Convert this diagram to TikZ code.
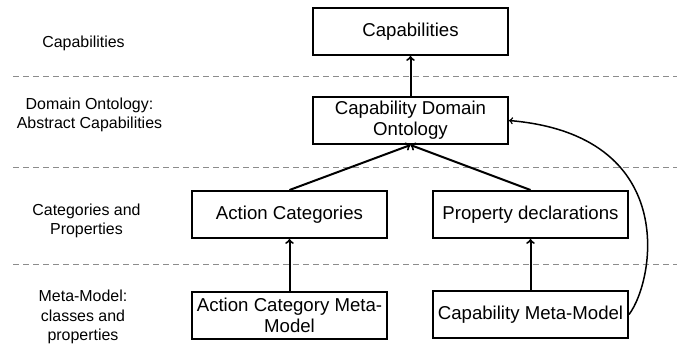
\documentclass[tikz,border=0pt]{standalone}
\usepackage{fontspec}
\setmainfont{Liberation Sans}
\usepackage{xcolor}
\usetikzlibrary{arrows}

\definecolor{sepgray}{gray}{0.55}

\tikzset{
  layer/.style={draw, line width=2bp, minimum width=195bp, minimum height=47bp,
    inner sep=2bp, align=center, font=\fontsize{18.7}{21}\selectfont},
  side/.style={align=center, font=\fontsize{16}{19.5}\selectfont},
  sep/.style={sepgray, dash pattern=on 6bp off 4bp, line width=1bp}
}

\begin{document}
\begin{tikzpicture}[x=1bp,y=-1bp,->,auto,node distance=89bp]
\useasboundingbox (0,0) rectangle (677,346);

% layers
\draw[sep,-] (13,76.5) -- (677,76.5);
\draw[sep,-] (13,167.5) -- (677,167.5);
\draw[sep,-] (13,264.5) -- (677,264.5);

\node (lcap) [side] at (83.5,43) {Capabilities};
\node (lonto) [side] at (89.5,115) {Domain Ontology:\\Abstract Capabilities};
\node (lcat) [side] at (86.5,221) {Categories and\\Properties};
\node (lmeta) [side] at (83,317) {Meta-Model:\\classes and\\properties};

\node (cap) [layer] at (410.5,31.5) {Capabilities};
\node (onto) [layer, below of=cap] {Capability Domain\\Ontology};
\node (actcat) [layer] at (289.5,214.5) {Action Categories};
\node (prop) [layer] at (530.5,214.5) {Property declarations};
\node (acmm) [layer, below of=actcat, node distance=101bp] {Action Category Meta-\\Model};
\node (cmm) [layer, below of=prop, node distance=100bp] {Capability Meta-Model};

\path[line width=2bp]
(onto) edge (cap)
(acmm) edge (actcat)
(cmm) edge (prop)
(actcat.north) edge (onto.south)
(prop.north) edge (onto.south);
\draw[line width=1.5bp] (cmm.east) .. controls (655,280) and (680,135) .. (onto.east);
\end{tikzpicture}
\end{document}
